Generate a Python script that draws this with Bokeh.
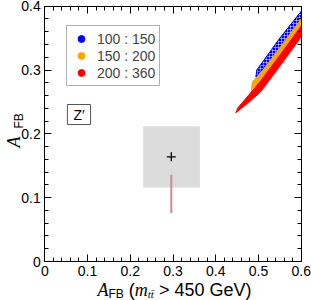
import math
from bokeh.plotting import figure
from bokeh.models import (LinearAxis, FixedTicker, Range1d, Legend, LegendItem, Label)
from bokeh.embed import file_html
from bokeh.resources import INLINE

# ---- data ----
x_tick_values = [0.0, 0.1, 0.2, 0.3, 0.4, 0.5, 0.6]
x_tick_labels = ["0", "0.1", "0.2", "0.3", "0.4", "0.5", "0.6"]
y_tick_values = [0.0, 0.1, 0.2, 0.3, 0.4]
y_tick_labels = ["0", "0.1", "0.2", "0.3", "0.4"]

legend_labels = ["100 : 150", "150 : 200", "200 : 360"]
legend_colors = ["#0000ff", "#ffa500", "#ff0000"]

# scan regions (outline of each point cloud)
blue_x = [0.494, 0.55, 0.60, 0.60, 0.55, 0.51, 0.496]
blue_y = [0.289, 0.332, 0.375, 0.392, 0.350, 0.313, 0.300]
orange_x = [0.483, 0.55, 0.60, 0.60, 0.55, 0.505, 0.486]
orange_y = [0.268, 0.318, 0.362, 0.380, 0.335, 0.295, 0.282]
red_x = [0.447, 0.48, 0.505, 0.55, 0.60, 0.60, 0.55, 0.505, 0.48, 0.452]
red_y = [0.233, 0.251, 0.266, 0.306, 0.352, 0.369, 0.323, 0.283, 0.263, 0.241]

# measurement box and point
meas_left = [0.23]
meas_right = [0.363]
meas_bottom = [0.116]
meas_top = [0.212]
meas_x = [0.296]
meas_y = [0.164]
# SM prediction bar
sm_x = [0.296]
sm_lo = [0.076]
sm_hi = [0.136]

X_MIN, X_MAX = 0.0, 0.6
Y_MIN, Y_MAX = 0.0, 0.4

# ---- figure: frame fills the canvas, axes pinned at the data edges ----
W, H = 311, 300
px_left, px_right, px_top, px_bottom = 44.3, 300.7, 5.7, 261.0
sx = (px_right - px_left) / (X_MAX - X_MIN)
sy = (px_bottom - px_top) / (Y_MAX - Y_MIN)
xr = Range1d(X_MIN - px_left / sx, X_MAX + (W - px_right) / sx)
yr = Range1d(Y_MIN - (H - px_bottom) / sy, Y_MAX + px_top / sy)

p = figure(width=W, height=H, x_range=xr, y_range=yr,
           output_backend="svg", toolbar_location=None,
           x_axis_location=None, y_axis_location=None,
           min_border_left=0, min_border_right=0, min_border_top=0, min_border_bottom=0)
p.xgrid.visible = False
p.ygrid.visible = False
p.outline_line_color = None
p.background_fill_color = "white"
p.border_fill_color = "white"

x_minor = [i * 0.02 for i in range(31)]
y_minor = [i * 0.02 for i in range(21)]

def make_axis(ticks, minor, labels, show_labels, loc, bounds):
    ax = LinearAxis(fixed_location=loc, bounds=bounds)
    ax.ticker = FixedTicker(ticks=ticks, minor_ticks=minor)
    ax.axis_line_color = "black"
    ax.axis_line_width = 1
    ax.major_tick_in = 7
    ax.major_tick_out = 0
    ax.minor_tick_in = 4
    ax.minor_tick_out = 0
    ax.major_tick_line_color = "black"
    ax.minor_tick_line_color = "black"
    if show_labels:
        ax.major_label_overrides = {t: l for t, l in zip(ticks, labels)}
        ax.major_label_text_font = "Liberation Sans"
        ax.major_label_text_font_size = "14px"
        ax.major_label_text_color = "black"
        ax.major_label_standoff = 4
    else:
        ax.major_label_overrides = {t: "" for t in ticks}
        ax.major_label_standoff = 0
    return ax

p.add_layout(make_axis(x_tick_values, x_minor, x_tick_labels, True, Y_MIN, (X_MIN, X_MAX)), "below")
p.add_layout(make_axis(y_tick_values, y_minor, y_tick_labels, True, X_MIN, (Y_MIN, Y_MAX)), "left")
p.add_layout(make_axis(x_tick_values, x_minor, x_tick_labels, False, Y_MAX, (X_MIN, X_MAX)), "above")
p.add_layout(make_axis(y_tick_values, y_minor, y_tick_labels, False, X_MAX, (Y_MIN, Y_MAX)), "right")

# measurement box
p.quad(left=meas_left, right=meas_right, bottom=meas_bottom, top=meas_top,
       fill_color="#dcdcdc", line_color=None)
p.segment(x0=sm_x, y0=sm_lo, x1=sm_x, y1=sm_hi, line_color="#d08a8a", line_width=2)
p.scatter(x=meas_x, y=meas_y, marker="cross", size=9, line_color="black", line_width=1.3)

# scan clouds
p.patch(blue_x, blue_y, fill_color=legend_colors[0], line_color=legend_colors[0], line_width=1,
        hatch_pattern="+", hatch_color="white", hatch_scale=3, hatch_weight=0.8, hatch_alpha=0.6)
p.patch(orange_x, orange_y, fill_color=legend_colors[1], line_color=legend_colors[1], line_width=1)
p.patch(red_x, red_y, fill_color=legend_colors[2], line_color=legend_colors[2], line_width=1)

# legend
items = []
for lab_txt, col in zip(legend_labels, legend_colors):
    r = p.scatter(x=[float("nan")], y=[float("nan")], marker="circle", fill_color=col, line_color=col)
    items.append(LegendItem(label=lab_txt, renderers=[r]))
legend = Legend(items=items, location=(66, 214), margin=0, padding=4, spacing=0,
                glyph_width=20, glyph_height=17, label_height=17, label_standoff=6,
                label_text_font="Liberation Sans", label_text_font_size="14px",
                border_line_color="#666666", border_line_width=1,
                background_fill_color="white", background_fill_alpha=1)
p.add_layout(legend, "center")

# Z' tag
p.add_layout(Label(x=0.0800, y=0.2303, text="Z′", text_align="center", text_baseline="middle",
                   text_font="Liberation Sans", text_font_size="14px", text_color="black",
                   border_line_color="#555555", border_line_width=1,
                   background_fill_color="white", padding=(6, 2)))

# axis titles built from pieces
def lab(x, y, t, font, size, style="normal", angle=0.0):
    p.add_layout(Label(x=x, y=y, text=t, text_font=font, text_font_size=size,
                       text_font_style=style, text_align="left", text_baseline="alphabetic",
                       text_color="black", angle=angle))

lab(0.1233, -0.0454, "A", "Liberation Serif", "18px", "italic")
lab(0.1491, -0.0509, "FB", "Liberation Sans", "12px")
lab(0.1966, -0.0454, "(", "Liberation Sans", "18px")
lab(0.2106, -0.0454, "m", "Liberation Serif", "18px", "italic")
lab(0.2410, -0.0509, "tt̄", "Liberation Serif", "11px", "italic")
lab(0.2670, -0.0454, "> 450 GeV)", "Liberation Sans", "18px")

lab(-0.0732, 0.1786, "A", "Liberation Serif", "18px", "italic", math.pi / 2)
lab(-0.0615, 0.2084, "FB", "Liberation Sans", "12px", "normal", math.pi / 2)

open("out.html", "w").write(file_html(p, INLINE))
